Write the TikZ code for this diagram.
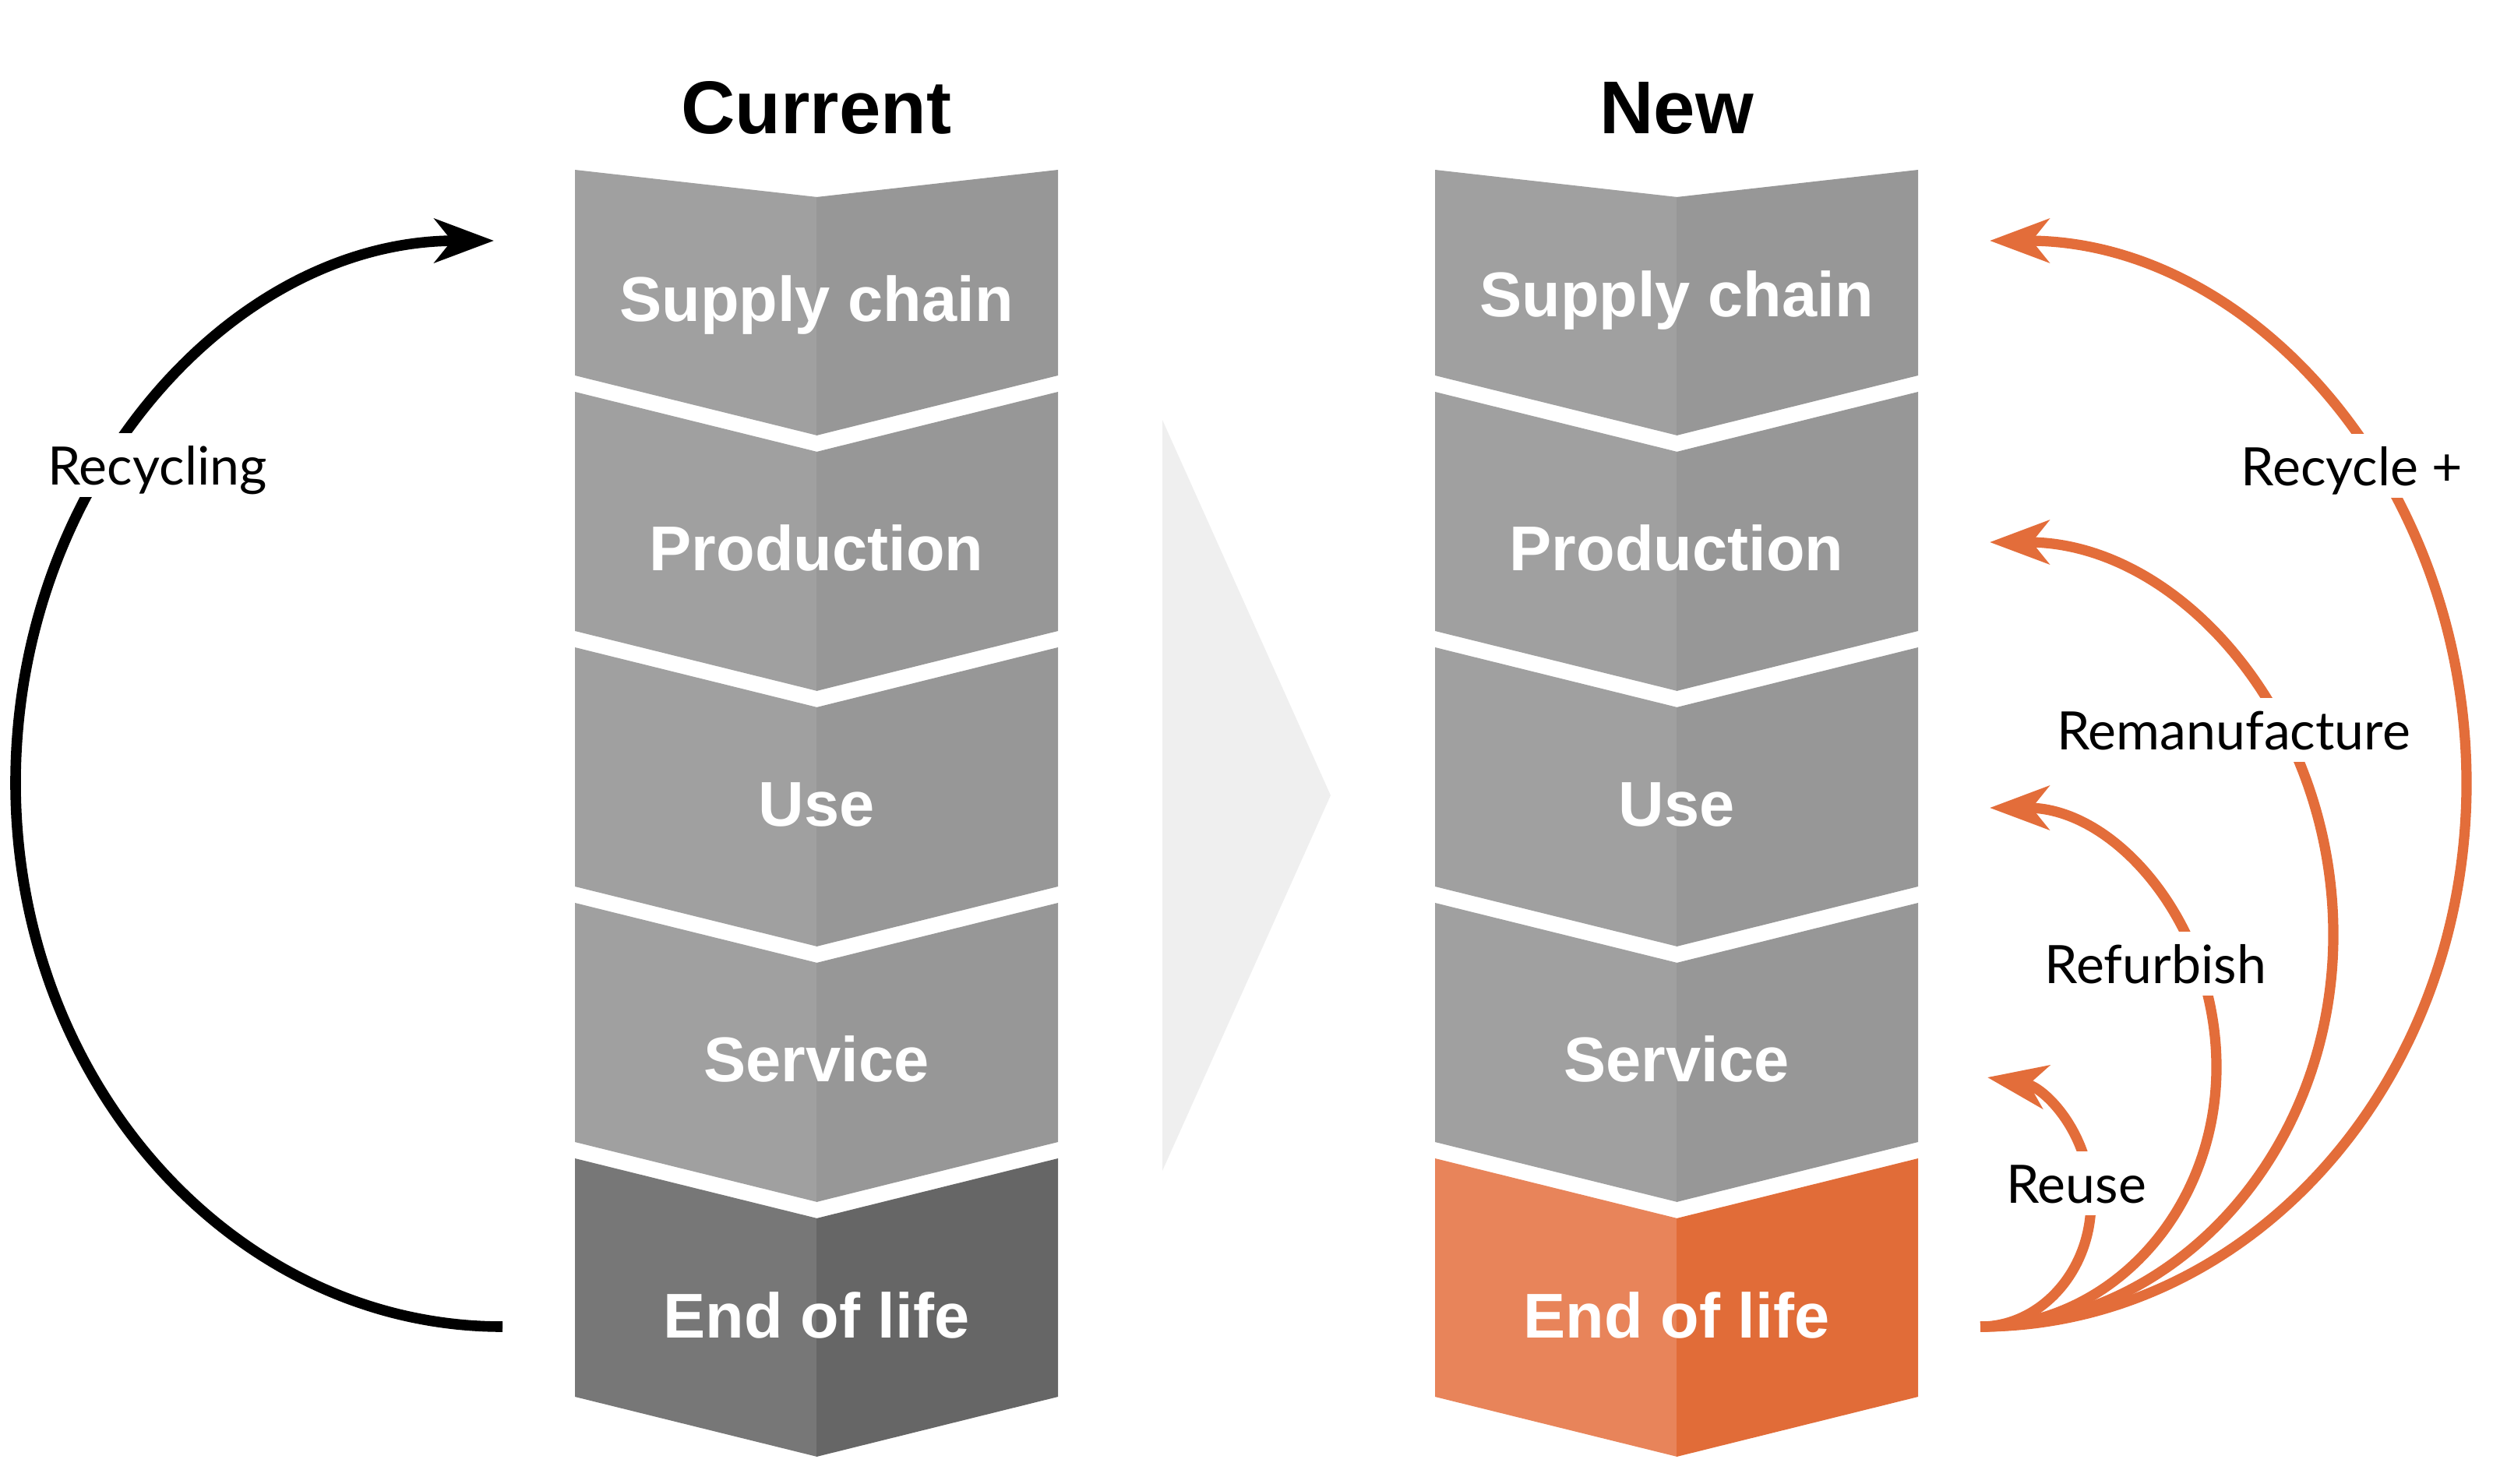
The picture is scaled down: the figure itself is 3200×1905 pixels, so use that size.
\documentclass[tikz,border=0pt]{standalone}
\usepackage{fontspec}
\setmainfont{Liberation Sans}
\newfontfamily\lato{Lato}
\usetikzlibrary{arrows.meta}
\definecolor{gL}{HTML}{A0A0A0}
\definecolor{gR}{HTML}{979797}
\definecolor{dL}{HTML}{777777}
\definecolor{dR}{HTML}{666666}
\definecolor{oL}{HTML}{E8845A}
\definecolor{oR}{HTML}{E16C38}
\definecolor{oA}{HTML}{E36D3A}
\definecolor{triG}{HTML}{EFEFEF}
\newcommand\mychev[6]{%
  \fill[#5] ({#1-310},{#2}) -- ({#1+1},{#2+#3}) -- ({#1+1},{#4+77}) -- ({#1-310},{#4}) -- cycle;
  \fill[#6] ({#1},{#2+#3}) -- ({#1+310},{#2}) -- ({#1+310},{#4}) -- ({#1},{#4+77}) -- cycle;
}
\begin{document}
\begin{tikzpicture}[x=0.25pt,y=-0.25pt,
  stage/.style={font=\bfseries\fontsize{20.3}{24}\selectfont, text=white, anchor=base, inner sep=0pt},
  ttl/.style={font=\bfseries\fontsize{24}{28}\selectfont, text=black, anchor=base, inner sep=0pt},
  alab/.style={font=\lato\fontsize{17}{20}\selectfont, text=black, anchor=base, fill=white,
    inner xsep=2pt, inner ysep=0pt, text height=16.5pt, text depth=4pt},
  blk/.style={draw=black, line width=3.4pt, -{Stealth[length=19pt,width=14pt,inset=5.5pt]}},
  org/.style={draw=oA, line width=3.3pt, -{Stealth[length=19pt,width=14pt,inset=5.5pt]}}]
\useasboundingbox (0,0) rectangle (3200,1905);

% big transition triangle
\fill[triG] (1492,539) -- (1708,1021) -- (1492,1503) -- cycle;

% left column
\mychev{1048}{218}{35}{482}{gL}{gR}
\mychev{1048}{503}{77}{810}{gL}{gR}
\mychev{1048}{831}{77}{1138}{gL}{gR}
\mychev{1048}{1159}{77}{1466}{gL}{gR}
\mychev{1048}{1487}{77}{1793}{dL}{dR}
% right column
\mychev{2152}{218}{35}{482}{gL}{gR}
\mychev{2152}{503}{77}{810}{gL}{gR}
\mychev{2152}{831}{77}{1138}{gL}{gR}
\mychev{2152}{1159}{77}{1466}{gL}{gR}
\mychev{2152}{1487}{77}{1793}{oL}{oR}

% titles
\node[ttl] (tCur) at (1048,172) {Current};
\node[ttl] (tNew) at (2152,172) {New};

% stage labels
\node[stage] (cS) at (1048,412) {Supply chain};
\node[stage] (cP) at (1048,732) {Production};
\node[stage] (cU) at (1048,1060) {Use};
\node[stage] (cV) at (1048,1388) {Service};
\node[stage] (cE) at (1048,1717) {End of life};
\node[stage] (nS) at (2152,406) {Supply chain};
\node[stage] (nP) at (2152,732) {Production};
\node[stage] (nU) at (2152,1060) {Use};
\node[stage] (nV) at (2152,1388) {Service};
\node[stage] (nE) at (2152,1717) {End of life};

% connector end points
\coordinate (bS) at (645,1703);
\coordinate (bT) at (634,309);
\coordinate (oS) at (2542,1703);
\coordinate (oT1) at (2554,309);
\coordinate (oT2) at (2554,696);
\coordinate (oT3) at (2554,1037);
\coordinate (oT4) at (2551,1383);

% black recycling loop
\path[blk] (bS) .. controls (300,1703) and (20,1390) .. (20,1005)
  .. controls (20,621) and (295,309) .. (bT);

% orange loops
\path[org] (oS) .. controls (2887,1703) and (3166,1391) .. (3166,1006)
  .. controls (3166,621) and (2892,309) .. (oT1);
\path[org] (oS) .. controls (2792,1703) and (2995,1478) .. (2995,1200)
  .. controls (2995,922) and (2798,696) .. (oT2);
\path[org] (oS) .. controls (2709,1703) and (2845,1554) .. (2845,1370)
  .. controls (2845,1186) and (2715,1037) .. (oT3);
\path[org] (oS) .. controls (2620,1703) and (2684,1631) .. (2684,1543)
  .. controls (2684,1455) and (2624,1395) .. (oT4);

% loop labels
\node[alab] (lRecycling) at (202,622) {Recycling};
\node[alab] (lRecycle) at (3019,623) {Recycle +};
\node[alab] (lReman) at (2867,962) {Remanufacture};
\node[alab] (lRefurb) at (2767,1262) {Refurbish};
\node[alab] (lReuse) at (2665,1544) {Reuse};
\end{tikzpicture}
\end{document}
